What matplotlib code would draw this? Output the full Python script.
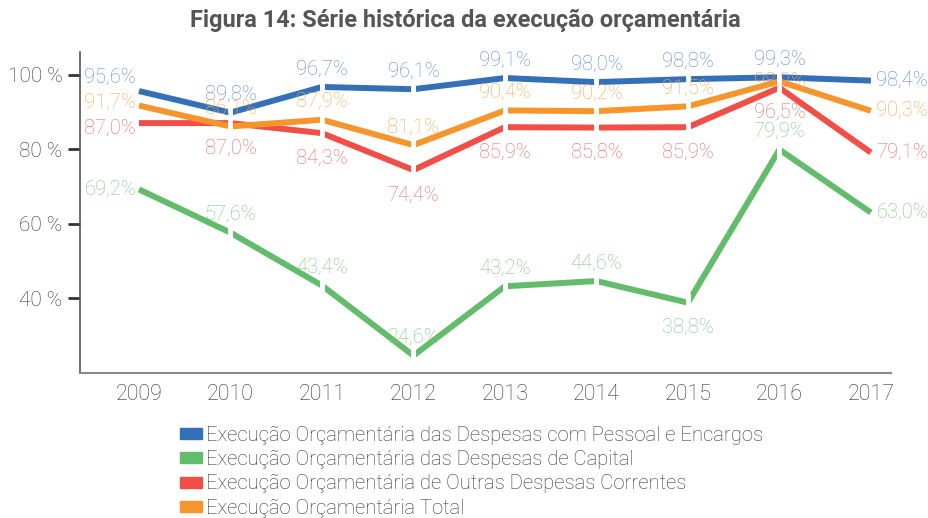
import numpy as np
import matplotlib
matplotlib.use("Agg")
import matplotlib.pyplot as plt
from matplotlib.patches import Patch

plt.rcParams['font.family'] = ['Roboto', 'DejaVu Sans']
plt.rcParams['font.weight'] = 'light'

years = [2009, 2010, 2011, 2012, 2013, 2014, 2015, 2016, 2017]
pessoal = [95.6, 89.8, 96.7, 96.1, 99.1, 98.0, 98.8, 99.3, 98.4]
capital = [69.2, 57.6, 43.4, 24.6, 43.2, 44.6, 38.8, 79.9, 63.0]
outras = [87.0, 87.0, 84.3, 74.4, 85.9, 85.8, 85.9, 96.5, 79.1]
total = [91.7, 86.1, 87.9, 81.1, 90.4, 90.2, 91.5, 98.2, 90.3]

names = ["Execução Orçamentária das Despesas com Pessoal e Encargos",
         "Execução Orçamentária das Despesas de Capital",
         "Execução Orçamentária de Outras Despesas Correntes",
         "Execução Orçamentária Total"]

# where each value label sits: l=left, r=right, a=above, b=below, c=on the point
pos_pessoal = ["l", "a", "a", "a", "a", "a", "a", "a", "r"]
pos_capital = ["l", "a", "a", "a", "a", "a", "b", "a", "r"]
pos_outras = ["l", "b", "b", "b", "b", "b", "b", "b", "r"]
pos_total = ["l", "a", "a", "a", "a", "a", "a", "c", "r"]

line_cols = ["#3470B8", "#63BC6B", "#F04E46", "#F7952D"]
lab_cols = ["#5E8ECB", "#7FCB86", "#F06B66", "#F8A852"]
left_dy = [10, 0, -4, 2]

x = np.arange(len(years))
fig = plt.figure(figsize=(9.29, 5.18), dpi=100)
ax = fig.add_axes([0.0861, 0.2805, 0.8730, 0.6185])

series = [pessoal, capital, outras, total]
positions = [pos_pessoal, pos_capital, pos_outras, pos_total]

for i, (vals, pos) in enumerate(zip(series, positions)):
    ax.plot(x, vals, color=line_cols[i], lw=4.3, solid_capstyle="butt",
            zorder=2 + i)
    # little white cuts at the inner points
    ax.plot(x[1:-1], vals[1:-1], ls="none", marker="|", ms=14, mew=3.5,
            color="white", zorder=2 + i)
    for xi, v, p in zip(x, vals, pos):
        txt = ("%.1f%%" % v).replace(".", ",")
        if p == "l":
            off, ha = (-2, left_dy[i]), "right"
        elif p == "r":
            off, ha = (4, 0), "left"
        elif p == "a":
            off, ha = (0, 13), "center"
        elif p == "c":
            off, ha = (0, 0), "center"
        else:
            off, ha = (0, -18), "center"
        ax.annotate(txt, (xi, v), xytext=off, textcoords="offset points",
                    ha=ha, va="center", fontsize=14.5, color=lab_cols[i],
                    zorder=10, annotation_clip=False)

ax.set_xlim(-0.645, 8.22)
ax.set_ylim(20, 106)
ax.set_yticks([40, 60, 80, 100])
ax.set_yticklabels(["40 %", "60 %", "80 %", "100 %"])
ax.set_xticks(x)
ax.set_xticklabels([str(y) for y in years])
ax.tick_params(axis="y", length=8.5, width=2, color="#333333", pad=4,
               labelsize=15, labelcolor="#333333")
ax.tick_params(axis="x", length=0, pad=8, labelsize=15.5,
               labelcolor="#333333")
for s in ["top", "right"]:
    ax.spines[s].set_visible(False)
ax.spines["left"].set_color("#555555")
ax.spines["bottom"].set_color("#888888")
ax.spines["left"].set_linewidth(1.2)
ax.spines["bottom"].set_linewidth(1.5)

fig.text(0.501, 0.961, "Figura 14: Série histórica da execução orçamentária",
         ha="center", va="center", fontsize=16.9, fontweight="bold",
         color="#555555")

handles = [Patch(color=c) for c in line_cols]
leg = fig.legend(handles, names, loc="upper left",
                 bbox_to_anchor=(0.194, 0.178), frameon=False,
                 fontsize=14.6, handlelength=1.05, handleheight=0.45,
                 handletextpad=0.2, labelspacing=0.26, borderpad=0,
                 borderaxespad=0)
for t in leg.get_texts():
    t.set_color("#333333")

plt.savefig("out.png", dpi=100)
